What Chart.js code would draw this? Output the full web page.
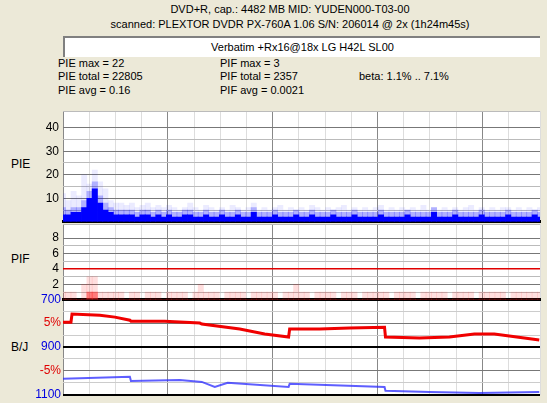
<!DOCTYPE html>
<html>
<head>
<meta charset="utf-8">
<script src="https://cdn.jsdelivr.net/npm/chart.js@4"></script>
<style>
  body { margin: 0; background: #ECE9D8; width: 547px; height: 403px; overflow: hidden; position: relative;
         font-family: "Liberation Sans", Arial, sans-serif; font-size: 11px; color: #000; }
  .t { position: absolute; white-space: nowrap; }
  canvas { position: absolute; left: 0; }
  #box { position: absolute; left: 63px; top: 36px; width: 475px; height: 19px; background: #fff;
         border-top: 2px solid #808080; border-left: 2px solid #808080; text-align: center; line-height: 19px; }
</style>
</head>
<body>
<div class="t" style="left:0;width:580px;text-align:center;top:3px">DVD+R, cap.: 4482 MB MID: YUDEN000-T03-00</div>
<div class="t" style="left:0;width:580px;text-align:center;top:18px">scanned: PLEXTOR DVDR PX-760A 1.06 S/N: 206014 @ 2x (1h24m45s)</div>
<div id="box">Verbatim +Rx16@18x LG H42L SL00</div>
<div class="t" style="left:58px;top:57px">PIE max = 22</div>
<div class="t" style="left:58px;top:70px">PIE total = 22805</div>
<div class="t" style="left:58px;top:84px">PIE avg = 0.16</div>
<div class="t" style="left:220px;top:57px">PIF max = 3</div>
<div class="t" style="left:220px;top:70px">PIF total = 2357</div>
<div class="t" style="left:220px;top:84px">PIF avg = 0.0021</div>
<div class="t" style="left:359px;top:70px">beta: 1.1% .. 7.1%</div>
<div class="t" style="left:11px;top:157px;font-size:12px">PIE</div>
<div class="t" style="left:11px;top:252px;font-size:12px">PIF</div>
<div class="t" style="left:11px;top:340px;font-size:12px">B/J</div>
<canvas id="bj" style="top:290px"></canvas>
<canvas id="pif" style="top:213px"></canvas>
<canvas id="pie" style="top:100px"></canvas>
<script>
// PIE per 0.05 GB bin: light (max), mid and dense core
const pieMax = [12,9,13,11,20,16,22,17,14,9,8,8,7,8,6,7,8,6,7,6,7,6,5,6,8,6,5,7,6,5,6,5,7,6,5,6,8,5,6,5,6,7,5,6,5,6,5,7,6,5,6,5,6,7,5,6,5,6,5,6,7,5,6,5,6,5,6,5,7,5,6,5,6,5,6,5,6,7,5,6,5,6,5,6,6,5,6,5,6,5,6];
const pieMid = [6,5,6,6,9,13,17,11,8,6,5,5,5,5,4,5,5,4,5,4,5,4,4,5,5,4,4,5,4,4,5,4,4,5,4,4,6,4,4,4,5,4,4,4,5,4,4,5,4,4,4,5,4,4,4,5,4,4,4,4,5,4,4,4,4,5,4,4,4,4,6,4,4,4,5,4,4,4,4,5,4,4,4,4,5,4,4,4,4,5,4];
const pieCore = [3,3,4,4,6,10,14,8,5,4,3,3,3,3,2,3,3,2,3,2,3,2,2,3,3,2,2,3,2,2,3,2,2,3,2,2,4,2,2,2,3,2,2,2,3,2,2,3,2,2,2,3,2,2,2,3,2,2,2,2,3,2,2,2,2,3,2,2,2,2,4,2,2,2,3,2,2,2,2,3,2,2,2,2,3,2,2,2,2,3,2];
const pifMax = [1,1,1,0,2,3,3,1,1,1,1,1,0,1,1,0,1,1,1,0,1,1,1,1,0,1,2,1,1,1,0,1,1,1,1,0,1,1,1,1,1,0,1,1,2,1,1,0,1,1,1,1,0,1,1,1,0,1,1,1,1,1,0,1,1,1,1,0,1,1,1,1,1,0,1,1,1,1,0,1,1,1,1,1,0,1,1,1,1,1,1];
const pifCore = [0,0,0,0,0,1,1,0,0,0,0,0,0,0,0,0,0,0,0,0,0,0,0,0,0,0,0,0,0,0,0,0,0,0,0,0,0,0,0,0,0,0,0,0,0,0,0,0,0,0,0,0,0,0,0,0,0,0,0,0,0,0,0,0,0,0,0,0,0,0,0,0,0,0,0,0,0,0,0,0,0,0,0,0,0,0,0,0,0,0,0];
// jitter (red) and beta (blue), B/J scale 700..1100
const jitterX = [0,0.076,0.086,0.352,0.495,0.638,0.648,0.733,0.971,1.305,1.324,1.686,1.924,2.152,2.162,2.448,2.733,3.067,3.076,3.4,3.686,3.924,4.114,4.257,4.543];
const jitterY = [796,796,762,767,775,788,792,792,792,800,804,825,846,858,825,825,821,817,858,862,858,846,846,854,871];
const betaX = [0,0.638,0.648,1.114,1.324,1.448,1.571,2.152,2.162,3.067,3.076,3.495,3.971,4.543];
const betaY = [1033,1025,1042,1038,1046,1067,1050,1067,1054,1067,1083,1088,1092,1088];
const XMAX = 4.55;

const bg = { id: 'bg', beforeDraw(c) {
  const a = c.chartArea, x = c.ctx; x.save(); x.fillStyle = '#fff';
  x.fillRect(a.left, a.top, a.right - a.left, a.bottom - a.top); x.restore(); } };

const font = { family: 'Liberation Sans', size: 12 };
function gridX(extra) {
  return Object.assign({
    type: 'linear', min: 0, max: XMAX, afterFit: s => { s.height = 0; },
    ticks: { display: false, stepSize: 0.25 },
    grid: { drawTicks: false, color: c => Number.isInteger(c.tick.value) ? '#888' : '#ddd' },
  }, extra);
}
function catX(n) {
  return { type: 'category', labels: Array.from({ length: n }, (_, i) => (i * 0.05).toFixed(2)),
           display: false, offset: false };
}
function yAxis(o) {
  return Object.assign({ afterFit: s => { s.width = 63; }, border: { display: false } }, o);
}
function make(id, h, data, scales) {
  const cv = document.getElementById(id); cv.width = 547; cv.height = h;
  return new Chart(cv, { data, plugins: [bg], options: {
    responsive: false, animation: false, events: [],
    layout: { padding: { top: 0, right: 7, bottom: 0, left: 0 } },
    plugins: { legend: { display: false }, tooltip: { enabled: false } }, scales } });
}
const barOpt = { barPercentage: 1, categoryPercentage: 1, grouped: false, xAxisID: 'xc' };

make('pie', 133, { datasets: [
  Object.assign({ type: 'bar', data: pieCore, backgroundColor: '#0000ff', order: 1 }, barOpt),
  Object.assign({ type: 'bar', data: pieMid, backgroundColor: 'rgba(0,0,255,0.25)', order: 2 }, barOpt),
  Object.assign({ type: 'bar', data: pieMax, backgroundColor: 'rgba(0,0,255,0.08)', order: 3 }, barOpt),
] }, {
  xc: catX(pieMax.length),
  x: gridX({ border: { color: '#000', width: 3 } }),
  y: yAxis({ min: 0, max: 47,
    ticks: { stepSize: 5, autoSkip: false, font, color: '#000', padding: 4,
      callback: v => (v > 0 && v % 10 === 0) ? v : '' },
    grid: { drawTicks: false, color: c => c.tick.value % 10 === 0 ? '#777' : '#bbb' } }),
});

make('pif', 98, { datasets: [
  Object.assign({ type: 'bar', data: pifCore, backgroundColor: 'rgba(255,40,40,0.55)', order: 1 }, barOpt),
  Object.assign({ type: 'bar', data: pifMax, backgroundColor: 'rgba(255,0,0,0.13)', order: 2 }, barOpt),
] }, {
  xc: catX(pifMax.length),
  x: gridX({ border: { color: '#000', width: 3 } }),
  y: yAxis({ min: 0, max: 9.8,
    ticks: { stepSize: 1, autoSkip: false, font, color: '#000', padding: 4,
      callback: v => (v > 0 && v % 2 === 0) ? v : '' },
    grid: { drawTicks: false, color: c => c.tick.value === 4 ? '#e00000' : (c.tick.value % 2 === 0 ? '#777' : '#bbb'),
      lineWidth: c => c.tick.value === 4 ? 1.5 : 1 } }),
});

const bjLabels = { 700: '700', 800: '5%', 900: '900', 1000: '-5%', 1100: '1100' };
make('bj', 114, { datasets: [
  { type: 'line', data: betaX.map((x, i) => ({ x, y: betaY[i] })), borderColor: 'rgba(40,40,255,0.75)', borderWidth: 2, pointRadius: 0, tension: 0 },
  { type: 'line', data: jitterX.map((x, i) => ({ x, y: jitterY[i] })), borderColor: '#f00000', borderWidth: 3, pointRadius: 0, tension: 0 },
] }, {
  x: gridX({ border: { display: false } }),
  y: yAxis({ min: 700, max: 1100, reverse: true,
    ticks: { stepSize: 50, autoSkip: false, padding: 2, font,
      color: c => (c.tick.value === 800 || c.tick.value === 1000) ? '#e00000' : '#0000e0',
      callback: v => bjLabels[v] || '' },
    grid: { drawTicks: false,
      color: c => [700, 900, 1100].includes(c.tick.value) ? '#000' : (c.tick.value % 100 === 0 ? '#777' : '#ccc'),
      lineWidth: c => c.tick.value === 700 ? 3 : (c.tick.value % 200 === 100 ? 2 : 1) } }),
});
</script>
</body>
</html>
